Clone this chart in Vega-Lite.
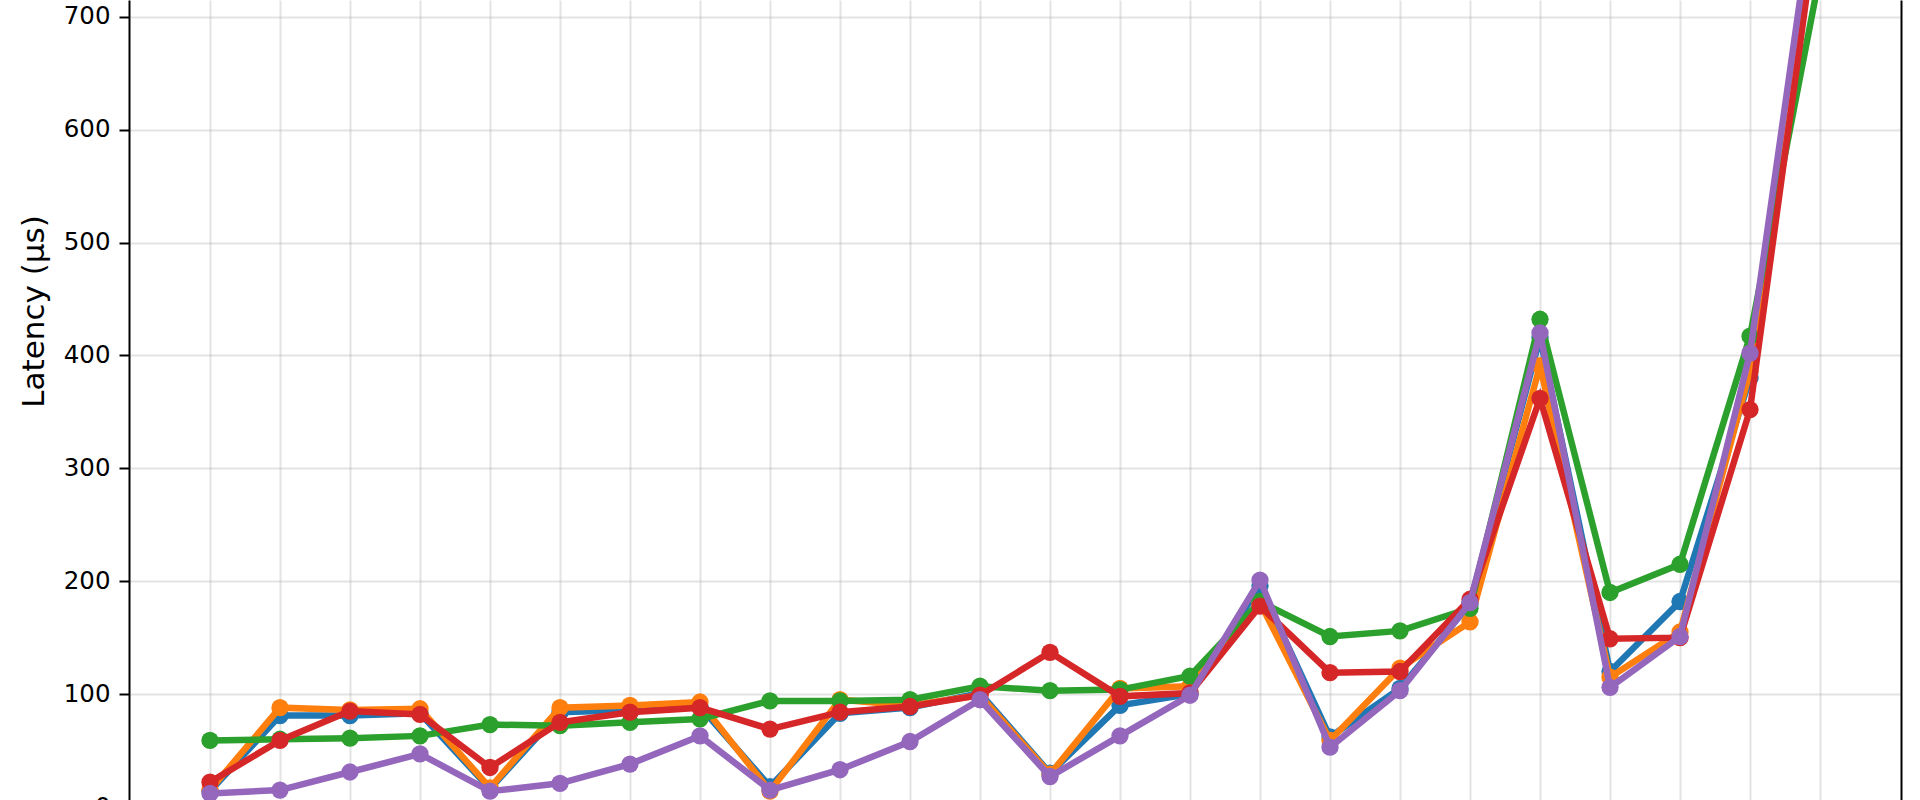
{
  "$schema": "https://vega.github.io/schema/vega-lite/v6.json",
  "autosize": {"type": "none"},
  "padding": {"left": 129, "top": 0, "right": 19, "bottom": -7},
  "width": 1772,
  "height": 807,
  "background": "white",
  "view": {"stroke": null},
  "data": {"values": [
    {"idx":0,"series":"s1","latency":14},{"idx":0,"series":"s2","latency":15},{"idx":0,"series":"s3","latency":59},{"idx":0,"series":"s4","latency":22},{"idx":0,"series":"s5","latency":12},
    {"idx":1,"series":"s1","latency":81},{"idx":1,"series":"s2","latency":88},{"idx":1,"series":"s3","latency":60},{"idx":1,"series":"s4","latency":59},{"idx":1,"series":"s5","latency":15},
    {"idx":2,"series":"s1","latency":81},{"idx":2,"series":"s2","latency":86},{"idx":2,"series":"s3","latency":61},{"idx":2,"series":"s4","latency":85},{"idx":2,"series":"s5","latency":31},
    {"idx":3,"series":"s1","latency":83},{"idx":3,"series":"s2","latency":87},{"idx":3,"series":"s3","latency":63},{"idx":3,"series":"s4","latency":82},{"idx":3,"series":"s5","latency":47},
    {"idx":4,"series":"s1","latency":16},{"idx":4,"series":"s2","latency":17},{"idx":4,"series":"s3","latency":73},{"idx":4,"series":"s4","latency":35},{"idx":4,"series":"s5","latency":14},
    {"idx":5,"series":"s1","latency":84},{"idx":5,"series":"s2","latency":88},{"idx":5,"series":"s3","latency":72},{"idx":5,"series":"s4","latency":75},{"idx":5,"series":"s5","latency":21},
    {"idx":6,"series":"s1","latency":86},{"idx":6,"series":"s2","latency":90},{"idx":6,"series":"s3","latency":75},{"idx":6,"series":"s4","latency":84},{"idx":6,"series":"s5","latency":38},
    {"idx":7,"series":"s1","latency":89},{"idx":7,"series":"s2","latency":93},{"idx":7,"series":"s3","latency":78},{"idx":7,"series":"s4","latency":88},{"idx":7,"series":"s5","latency":63},
    {"idx":8,"series":"s1","latency":18},{"idx":8,"series":"s2","latency":14},{"idx":8,"series":"s3","latency":94},{"idx":8,"series":"s4","latency":69},{"idx":8,"series":"s5","latency":15},
    {"idx":9,"series":"s1","latency":83},{"idx":9,"series":"s2","latency":95},{"idx":9,"series":"s3","latency":94},{"idx":9,"series":"s4","latency":84},{"idx":9,"series":"s5","latency":33},
    {"idx":10,"series":"s1","latency":88},{"idx":10,"series":"s2","latency":90},{"idx":10,"series":"s3","latency":95},{"idx":10,"series":"s4","latency":89},{"idx":10,"series":"s5","latency":58},
    {"idx":11,"series":"s1","latency":101},{"idx":11,"series":"s2","latency":99},{"idx":11,"series":"s3","latency":107},{"idx":11,"series":"s4","latency":99},{"idx":11,"series":"s5","latency":95},
    {"idx":12,"series":"s1","latency":30},{"idx":12,"series":"s2","latency":29},{"idx":12,"series":"s3","latency":103},{"idx":12,"series":"s4","latency":137},{"idx":12,"series":"s5","latency":27},
    {"idx":13,"series":"s1","latency":90},{"idx":13,"series":"s2","latency":105},{"idx":13,"series":"s3","latency":104},{"idx":13,"series":"s4","latency":98},{"idx":13,"series":"s5","latency":63},
    {"idx":14,"series":"s1","latency":100},{"idx":14,"series":"s2","latency":107},{"idx":14,"series":"s3","latency":116},{"idx":14,"series":"s4","latency":101},{"idx":14,"series":"s5","latency":99},
    {"idx":15,"series":"s1","latency":196},{"idx":15,"series":"s2","latency":181},{"idx":15,"series":"s3","latency":182},{"idx":15,"series":"s4","latency":178},{"idx":15,"series":"s5","latency":201},
    {"idx":16,"series":"s1","latency":62},{"idx":16,"series":"s2","latency":59},{"idx":16,"series":"s3","latency":151},{"idx":16,"series":"s4","latency":119},{"idx":16,"series":"s5","latency":53},
    {"idx":17,"series":"s1","latency":105},{"idx":17,"series":"s2","latency":123},{"idx":17,"series":"s3","latency":156},{"idx":17,"series":"s4","latency":120},{"idx":17,"series":"s5","latency":103},
    {"idx":18,"series":"s1","latency":180},{"idx":18,"series":"s2","latency":164},{"idx":18,"series":"s3","latency":176},{"idx":18,"series":"s4","latency":184},{"idx":18,"series":"s5","latency":181},
    {"idx":19,"series":"s1","latency":416},{"idx":19,"series":"s2","latency":391},{"idx":19,"series":"s3","latency":432},{"idx":19,"series":"s4","latency":362},{"idx":19,"series":"s5","latency":420},
    {"idx":20,"series":"s1","latency":120},{"idx":20,"series":"s2","latency":115},{"idx":20,"series":"s3","latency":190},{"idx":20,"series":"s4","latency":149},{"idx":20,"series":"s5","latency":106},
    {"idx":21,"series":"s1","latency":182},{"idx":21,"series":"s2","latency":155},{"idx":21,"series":"s3","latency":215},{"idx":21,"series":"s4","latency":150},{"idx":21,"series":"s5","latency":151},
    {"idx":22,"series":"s1","latency":380},{"idx":22,"series":"s2","latency":386},{"idx":22,"series":"s3","latency":417},{"idx":22,"series":"s4","latency":352},{"idx":22,"series":"s5","latency":402},
    {"idx":23,"series":"s1","latency":830},{"idx":23,"series":"s2","latency":820},{"idx":23,"series":"s3","latency":738},{"idx":23,"series":"s4","latency":805},{"idx":23,"series":"s5","latency":840}
  ]},
  "encoding": {
    "x": {"field": "idx", "type": "quantitative", "scale": {"domain": [-1.157, 24.157], "nice": false, "zero": false},
          "axis": {"values": [0,1,2,3,4,5,6,7,8,9,10,11,12,13,14,15,16,17,18,19,20,21,22,23], "grid": true, "labels": false, "ticks": false, "domain": false, "title": null}},
    "color": {"field": "series", "type": "nominal", "scale": {"domain": ["s1","s2","s3","s4","s5"], "range": ["#1f77b4","#ff7f0e","#2ca02c","#d62728","#9467bd"]}, "legend": null}
  },
  "layer": [
    {"transform": [{"filter": "datum.series === 's1'"}],
     "encoding": {"y": {"field": "latency", "type": "quantitative", "scale": {"domain": [0, 714.8], "nice": false, "zero": false},
        "axis": {"values": [0,100,200,300,400,500,600,700], "title": "Latency (μs)", "titleX": -85.5, "titleY": 311, "titleBaseline": "alphabetic", "titleAlign": "center", "titleAngle": 270, "grid": true}}},
     "layer": [
       {"mark": {"type": "line", "strokeWidth": 6.5, "clip": true}},
       {"mark": {"type": "point", "filled": true, "size": 300, "opacity": 1, "clip": true}}
     ]},
    {"transform": [{"filter": "datum.series === 's2'"}],
     "encoding": {"y": {"field": "latency", "type": "quantitative", "scale": {"domain": [0, 714.8], "nice": false, "zero": false},
        "axis": {"orient": "right", "labels": false, "ticks": false, "grid": false, "title": null, "domain": true}}},
     "layer": [
       {"mark": {"type": "line", "strokeWidth": 6.5, "clip": true}},
       {"mark": {"type": "point", "filled": true, "size": 300, "opacity": 1, "clip": true}}
     ]},
    {"transform": [{"filter": "datum.series === 's3'"}],
     "encoding": {"y": {"field": "latency", "type": "quantitative", "scale": {"domain": [0, 714.8], "nice": false, "zero": false}, "axis": null}},
     "layer": [
       {"mark": {"type": "line", "strokeWidth": 6.5, "clip": true}},
       {"mark": {"type": "point", "filled": true, "size": 300, "opacity": 1, "clip": true}}
     ]},
    {"transform": [{"filter": "datum.series === 's4'"}],
     "encoding": {"y": {"field": "latency", "type": "quantitative", "scale": {"domain": [0, 714.8], "nice": false, "zero": false}, "axis": null}},
     "layer": [
       {"mark": {"type": "line", "strokeWidth": 6.5, "clip": true}},
       {"mark": {"type": "point", "filled": true, "size": 300, "opacity": 1, "clip": true}}
     ]},
    {"transform": [{"filter": "datum.series === 's5'"}],
     "encoding": {"y": {"field": "latency", "type": "quantitative", "scale": {"domain": [0, 714.8], "nice": false, "zero": false}, "axis": null}},
     "layer": [
       {"mark": {"type": "line", "strokeWidth": 6.5, "clip": true}},
       {"mark": {"type": "point", "filled": true, "size": 300, "opacity": 1, "clip": true}}
     ]}
  ],
  "resolve": {"axis": {"y": "independent"}},
  "config": {
    "font": "DejaVu Sans",
    "axis": {
      "labelFont": "DejaVu Sans", "titleFont": "DejaVu Sans",
      "labelColor": "black", "titleColor": "black",
      "labelFontSize": 24.5, "titleFontSize": 31, "titleFontWeight": "normal",
      "domainColor": "black", "domainWidth": 2,
      "tickColor": "black", "tickWidth": 2, "tickSize": 10, "labelPadding": 9,
      "gridColor": "#b0b0b0", "gridOpacity": 0.35, "gridWidth": 2
    }
  }
}
